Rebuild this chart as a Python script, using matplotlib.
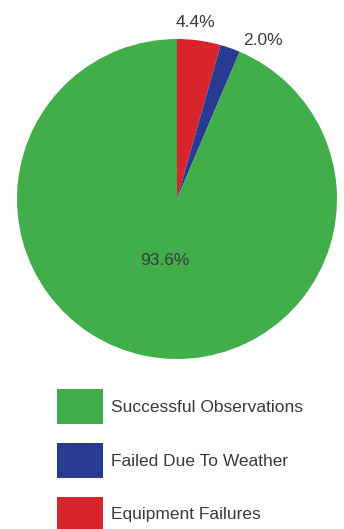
import numpy as np
import matplotlib
matplotlib.use("Agg")
import matplotlib.pyplot as plt

plt.rcParams['font.family'] = ['Liberation Sans', 'DejaVu Sans']

# slices in drawing order (clockwise from 12 o'clock)
labels = ['Equipment Failures', 'Failed Due To Weather', 'Successful Observations']
values = [4.4, 2.0, 93.6]
colors = ['#d8242b', '#283a92', '#41ae4a']
legend_order = [2, 1, 0]

fig = plt.figure(figsize=(3.44, 5.29), dpi=100)
ax = fig.add_axes([17 / 344, 1 - 359 / 529, 320 / 344, 320 / 529])

wedges, texts = ax.pie(values, colors=colors, startangle=90, counterclock=False,
                       wedgeprops=dict(linewidth=0))
ax.set_xlim(-1, 1)
ax.set_ylim(-1, 1)
ax.set_aspect('equal')
ax.axis('off')

# percentage labels: small slices outside, big slice inside
label_r = [1.11, 1.13, 0.39]
angle_shift = [2, -9, 0]
for w, v, r, da in zip(wedges, values, label_r, angle_shift):
    ang = np.deg2rad((w.theta1 + w.theta2) / 2 + da)
    ax.text(r * np.cos(ang), r * np.sin(ang), f'{v:.1f}%', ha='center', va='center',
            fontsize=12.5, color='#3a3a3a')

fs = 12.5
leg = fig.legend([wedges[i] for i in legend_order], [labels[i] for i in legend_order],
                 loc='upper left', bbox_to_anchor=(57 / 344, 1 - 389 / 529),
                 frameon=False, fontsize=fs, borderpad=0, borderaxespad=0,
                 handlelength=2.65, handleheight=2.72, handletextpad=0.45,
                 labelspacing=1.09)
for t in leg.get_texts():
    t.set_color('#3a3a3a')

fig.savefig('out.png', dpi=100)
